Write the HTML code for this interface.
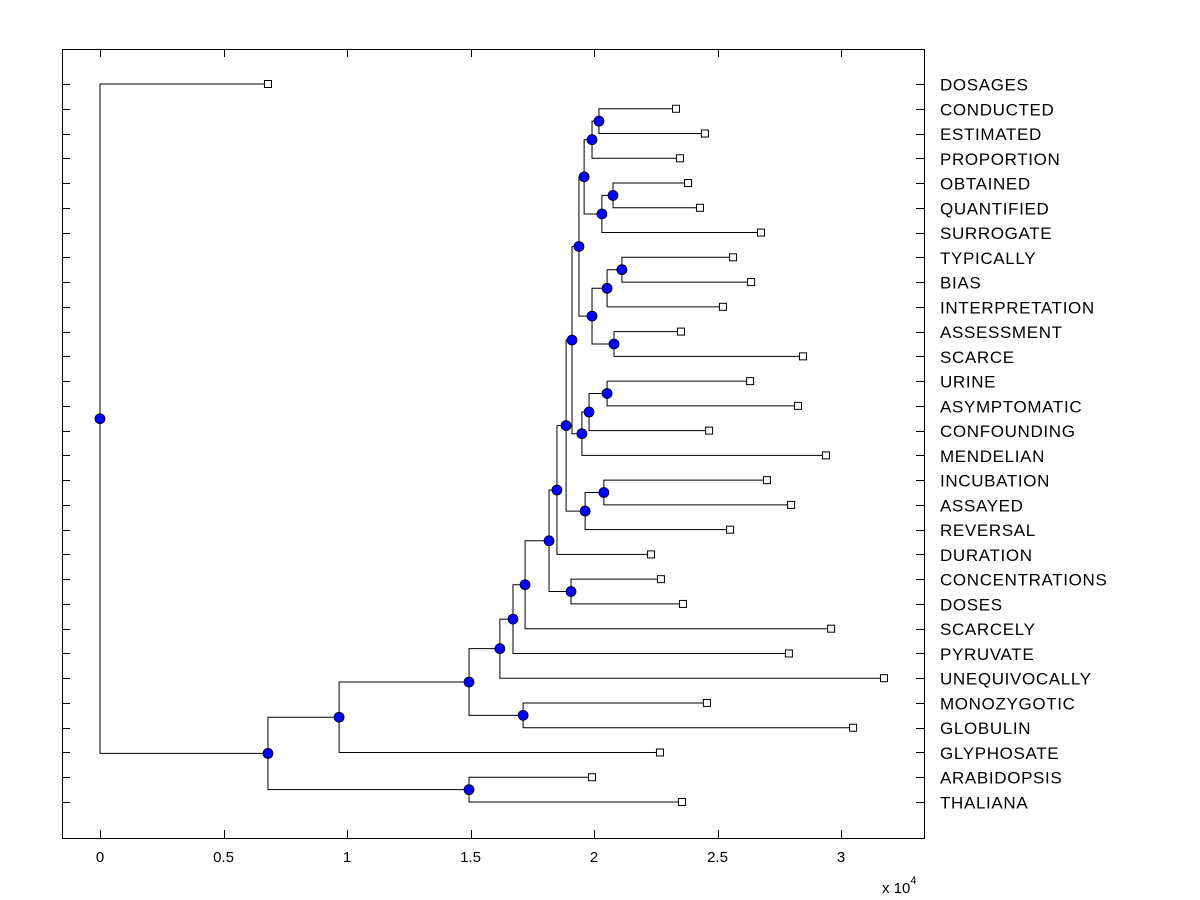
<!DOCTYPE html>
<html><head><meta charset="utf-8"><style>
body{margin:0;background:#fff;}
svg{display:block;font-family:"Liberation Sans",Arial,sans-serif;}
</style></head><body>
<svg id="chart" width="1200" height="900"></svg>
<script>
const leafLabels=["DOSAGES","CONDUCTED","ESTIMATED","PROPORTION","OBTAINED","QUANTIFIED","SURROGATE","TYPICALLY","BIAS","INTERPRETATION","ASSESSMENT","SCARCE","URINE","ASYMPTOMATIC","CONFOUNDING","MENDELIAN","INCUBATION","ASSAYED","REVERSAL","DURATION","CONCENTRATIONS","DOSES","SCARCELY","PYRUVATE","UNEQUIVOCALLY","MONOZYGOTIC","GLOBULIN","GLYPHOSATE","ARABIDOPSIS","THALIANA"];
const leafValues=[0.680,2.332,2.449,2.348,2.381,2.429,2.676,2.563,2.636,2.522,2.352,2.846,2.632,2.826,2.466,2.939,2.700,2.798,2.551,2.231,2.271,2.360,2.960,2.789,3.174,2.457,3.049,2.267,1.992,2.356];
// merges: [childA, childB]; node ids start at 30
const mergeChildren=[[1,2],[30,3],[4,5],[32,6],[31,33],[7,8],[35,9],[10,11],[36,37],[34,38],[12,13],[40,14],[41,15],[39,42],[16,17],[44,18],[43,45],[46,19],[20,21],[47,48],[49,22],[50,23],[51,24],[25,26],[52,53],[54,27],[28,29],[55,56],[0,57]];
const mergeValues=[2.020,1.992,2.077,2.032,1.960,2.113,2.053,2.081,1.992,1.939,2.053,1.980,1.951,1.911,2.040,1.964,1.887,1.850,1.907,1.818,1.721,1.672,1.619,1.713,1.494,0.968,1.494,0.680,0.0];
const xTicks=[0,0.5,1,1.5,2,2.5,3];
const xTickLabels=["0","0.5","1","1.5","2","2.5","3"];

const svg=document.getElementById('chart');
const NS='http://www.w3.org/2000/svg';
const L=62,T=49,R=924,B=838;
const xs=v=>100+v*247;
const ys=i=>84+i*(718/29);
function mk(tag,attrs,parent){const e=document.createElementNS(NS,tag);for(const k in attrs)e.setAttribute(k,attrs[k]);(parent||svg).appendChild(e);return e;}

const axes=mk('rect',{x:L+0.5,y:T+0.5,width:R-L,height:B-T,fill:'#fff',stroke:'#000','stroke-width':1});



xTicks.forEach((t,i)=>{
  const x=Math.round(xs(t))+0.5;
  const tk=mk('path',{d:`M${x} ${B}V${B-8}M${x} ${T}V${T+8}`,stroke:'#000','stroke-width':1});
  
  
  const tl=mk('text',{x:xs(t),y:B+24,'text-anchor':'middle','font-size':15});
  tl.textContent=xTickLabels[i];
  
  
});
const ex=mk('text',{x:882,y:893,'font-size':15});
ex.innerHTML='x 10<tspan dy="-9" font-size="11">4</tspan>';



const pos={};
leafLabels.forEach((lab,i)=>{
  const y=Math.round(ys(i))+0.5;
  const tk=mk('path',{d:`M${L} ${y}H${L+8}M${R} ${y}H${R-8}`,stroke:'#000','stroke-width':1});
  
  
  const tl=mk('text',{x:940,y:ys(i)+6.5,'font-size':17,'letter-spacing':0.65});
  tl.textContent=lab;
  
  
  pos[i]={x:xs(leafValues[i]),y:ys(i),leaf:true};
});
const links=mk('g',{stroke:'#000','stroke-width':1,fill:'none'});


mergeChildren.forEach((c,k)=>{
  const a=pos[c[0]],b=pos[c[1]];
  const x=xs(mergeValues[k]);
  pos[30+k]={x:x,y:(a.y+b.y)/2,leaf:false};
  const ln=mk('path',{d:`M${a.x} ${a.y}H${x}V${b.y}H${b.x}`},links);
  
  
});
Object.keys(pos).forEach(id=>{
  const p=pos[id];
  if(p.leaf){
    const m=mk('rect',{x:p.x-3.5,y:p.y-3.5,width:7,height:7,fill:'#fff',stroke:'#000','stroke-width':1});
    
    
  }else{
    const m=mk('circle',{cx:p.x,cy:p.y,r:5,fill:'#0000ff',stroke:'#000','stroke-width':0.8});
    
    
  }
});
</script>
</body></html>
